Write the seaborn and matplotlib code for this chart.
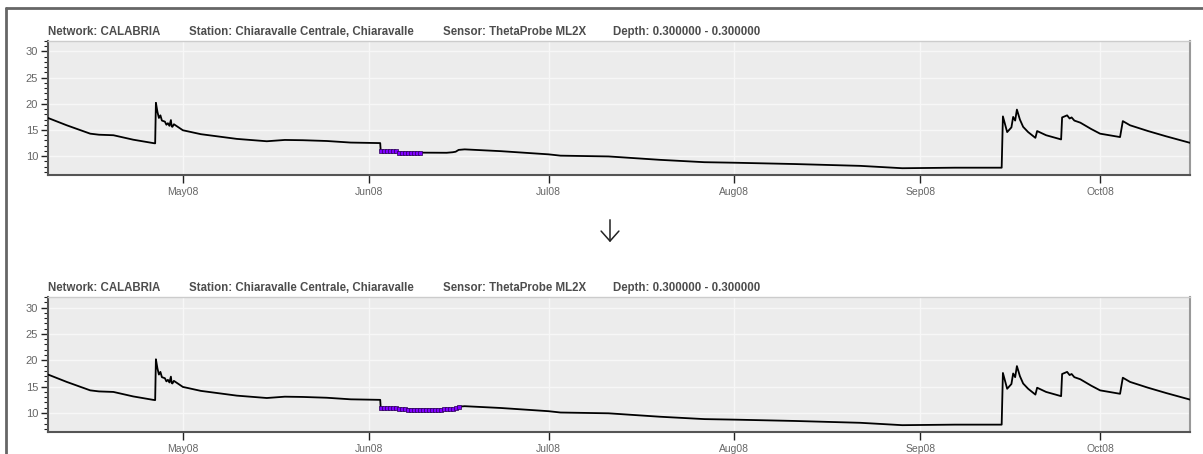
import matplotlib
matplotlib.use("Agg")
import matplotlib.pyplot as plt
import matplotlib.dates as mdates
from matplotlib.lines import Line2D
from matplotlib.ticker import MultipleLocator
import numpy as np
import pandas as pd
import seaborn as sns

# Soil moisture series (vol. %), ThetaProbe ML2X at 0.30 m, Chiaravalle Centrale
obs_times = [
    "2008-04-08 12:00", "2008-04-11 15:00", "2008-04-15 13:00", "2008-04-17 00:00",
    "2008-04-19 10:00", "2008-04-22 17:00", "2008-04-26 01:00", "2008-04-26 09:00",
    "2008-04-26 12:00", "2008-04-26 18:00", "2008-04-27 00:00", "2008-04-27 06:00",
    "2008-04-27 12:00", "2008-04-28 00:00", "2008-04-28 06:00", "2008-04-28 12:00",
    "2008-04-28 18:00", "2008-04-29 00:00", "2008-04-29 03:00", "2008-04-29 06:00",
    "2008-04-29 12:00", "2008-05-01 00:00", "2008-05-04 00:00", "2008-05-10 00:00",
    "2008-05-15 00:00", "2008-05-18 00:00", "2008-05-21 00:00", "2008-05-25 00:00",
    "2008-05-29 00:00", "2008-06-02 22:00", "2008-06-03 00:00", "2008-06-05 12:00",
    "2008-06-06 00:00", "2008-06-14 00:00", "2008-06-15 00:00", "2008-06-15 12:00",
    "2008-06-16 00:00", "2008-06-17 00:00", "2008-06-23 00:00", "2008-07-01 00:00",
    "2008-07-03 00:00", "2008-07-11 00:00", "2008-07-19 14:00", "2008-07-27 00:00",
    "2008-08-01 00:00", "2008-08-11 00:00", "2008-08-22 00:00", "2008-08-29 00:00",
    "2008-09-06 19:00", "2008-09-14 14:00", "2008-09-14 19:00", "2008-09-15 12:00",
    "2008-09-16 05:00", "2008-09-16 12:00", "2008-09-16 20:00", "2008-09-17 03:00",
    "2008-09-17 15:00", "2008-09-18 04:00", "2008-09-19 00:00", "2008-09-20 05:00",
    "2008-09-20 12:00", "2008-09-22 00:00", "2008-09-24 12:00",
    "2008-09-24 16:00", "2008-09-25 12:00", "2008-09-25 22:00", "2008-09-26 06:00",
    "2008-09-26 17:00", "2008-09-27 17:00", "2008-09-29 12:00", "2008-10-01 00:00",
    "2008-10-04 08:00", "2008-10-04 19:00", "2008-10-06 00:00", "2008-10-09 00:00",
    "2008-10-12 00:00", "2008-10-16 00:00",
]
obs_values = [
    17.3, 15.9, 14.3, 14.1,
    14.0, 13.15, 12.5, 12.45,
    20.2, 18.5, 17.3, 17.8,
    16.8, 16.6, 16.0, 16.3,
    15.8, 16.9, 15.7, 15.6,
    16.1, 14.95, 14.2, 13.3,
    12.85, 13.1, 13.05, 12.9,
    12.6, 12.5, 11.0, 10.9,
    10.7, 10.65, 10.75, 10.85,
    11.2, 11.3, 10.96, 10.35,
    10.1, 9.95, 9.3, 8.85,
    8.75, 8.5, 8.15, 7.7,
    7.8, 7.8, 17.6, 14.6,
    15.5, 17.5, 16.8, 18.9,
    17.0, 15.6, 14.6, 13.5,
    14.8, 14.0, 13.2,
    17.4, 17.8, 17.2, 17.4,
    16.8, 16.4, 15.2, 14.3,
    13.65, 16.7, 15.9, 14.8,
    13.8, 12.55,
]

# Flagged observations (12-hourly), before and after the flag window was extended
flag_start = "2008-06-03 00:00"
flag_before = [11.0, 11.0, 11.0, 10.95, 10.95, 10.9, 10.7, 10.7, 10.7,
               10.65, 10.65, 10.65, 10.65, 10.65]
flag_after = [11.0, 11.0, 11.0, 10.95, 10.95, 10.9, 10.7, 10.7, 10.7,
              10.65, 10.65, 10.65, 10.65, 10.65, 10.65, 10.65, 10.65,
              10.65, 10.65, 10.65, 10.65, 10.7, 10.7, 10.75, 10.85, 11.0, 11.2]

title_parts = ["Network: CALABRIA", "Station: Chiaravalle Centrale, Chiaravalle",
               "Sensor: ThetaProbe ML2X", "Depth: 0.300000 - 0.300000"]
title_px = [48, 189, 443, 613]

series = pd.DataFrame({"time": pd.to_datetime(obs_times), "sm": obs_values})


def flag_frame(values):
    t = pd.date_range(flag_start, periods=len(values), freq="12h")
    return pd.DataFrame({"time": t, "sm": values})


sns.set_theme(style="whitegrid", rc={
    "axes.facecolor": "#ececec",
    "grid.color": "#f7f7f7",
    "grid.linewidth": 1.0,
})
plt.rcParams["font.family"] = ["Liberation Sans", "DejaVu Sans"]

W, H = 1203, 454
fig = plt.figure(figsize=(W / 100, H / 100), dpi=100)

panels = [(41, 174.5, flag_before), (297, 431.5, flag_after)]
for top, bottom, flags in panels:
    ax = fig.add_axes([48 / W, 1 - bottom / H, (1190 - 48) / W, (bottom - top) / H])
    sns.lineplot(data=series, x="time", y="sm", ax=ax, color="black",
                 linewidth=1.3, estimator=None, sort=True, zorder=3)
    sns.scatterplot(data=flag_frame(flags), x="time", y="sm", ax=ax,
                    marker="s", s=9, color="#8000ff", edgecolor="#2a0055",
                    linewidth=0.5, zorder=4)
    ax.set_xlim(pd.Timestamp("2008-04-08 12:00"), pd.Timestamp("2008-10-16 00:00"))
    ax.set_ylim(6.5, 32)
    ax.set_xlabel("")
    ax.set_ylabel("")
    ax.xaxis.set_major_locator(mdates.MonthLocator())
    ax.xaxis.set_major_formatter(mdates.DateFormatter("%b%y"))
    ax.yaxis.set_major_locator(MultipleLocator(5))
    ax.yaxis.set_minor_locator(MultipleLocator(1))
    ax.set_yticks([10, 15, 20, 25, 30])
    ax.grid(True, which="major")
    ax.grid(False, which="minor")
    ax.tick_params(axis="x", which="major", direction="out", length=6, width=1,
                   color="#222222", labelsize=7.5, labelcolor="#666666", pad=3, bottom=True)
    ax.tick_params(axis="y", which="major", direction="out", length=5, width=1,
                   color="#222222", labelsize=8, labelcolor="#666666", pad=2, left=True)
    ax.tick_params(axis="y", which="minor", direction="out", length=3, width=0.8,
                   color="#222222", left=True)
    for side in ("left", "bottom"):
        ax.spines[side].set_color("#555555")
        ax.spines[side].set_linewidth(1.5)
    ax.spines["top"].set_color("#cccccc")
    ax.spines["top"].set_linewidth(1.0)
    ax.spines["right"].set_color("#999999")
    ax.spines["right"].set_linewidth(1.5)
    for txt, px in zip(title_parts, title_px):
        fig.text(px / W, 1 - (top - 9) / H, txt, fontsize=8.3, fontweight="bold",
                 color="#4d4d4d", ha="left", va="center")

# transition arrow between the two panels
fig.add_artist(matplotlib.patches.FancyArrowPatch(
    (610 / W, 1 - 217 / H), (610 / W, 1 - 245 / H), transform=fig.transFigure,
    arrowstyle="->,head_length=0.45,head_width=0.4", mutation_scale=16,
    color="#222222", linewidth=1.1))

# surrounding frame
fig.add_artist(Line2D([6 / W, 1], [1 - 7.5 / H, 1 - 7.5 / H], transform=fig.transFigure,
                      color="#666666", linewidth=2))
fig.add_artist(Line2D([6 / W, 6 / W], [0, 1 - 7.5 / H], transform=fig.transFigure,
                      color="#666666", linewidth=2))

fig.savefig("out.png", dpi=100)
